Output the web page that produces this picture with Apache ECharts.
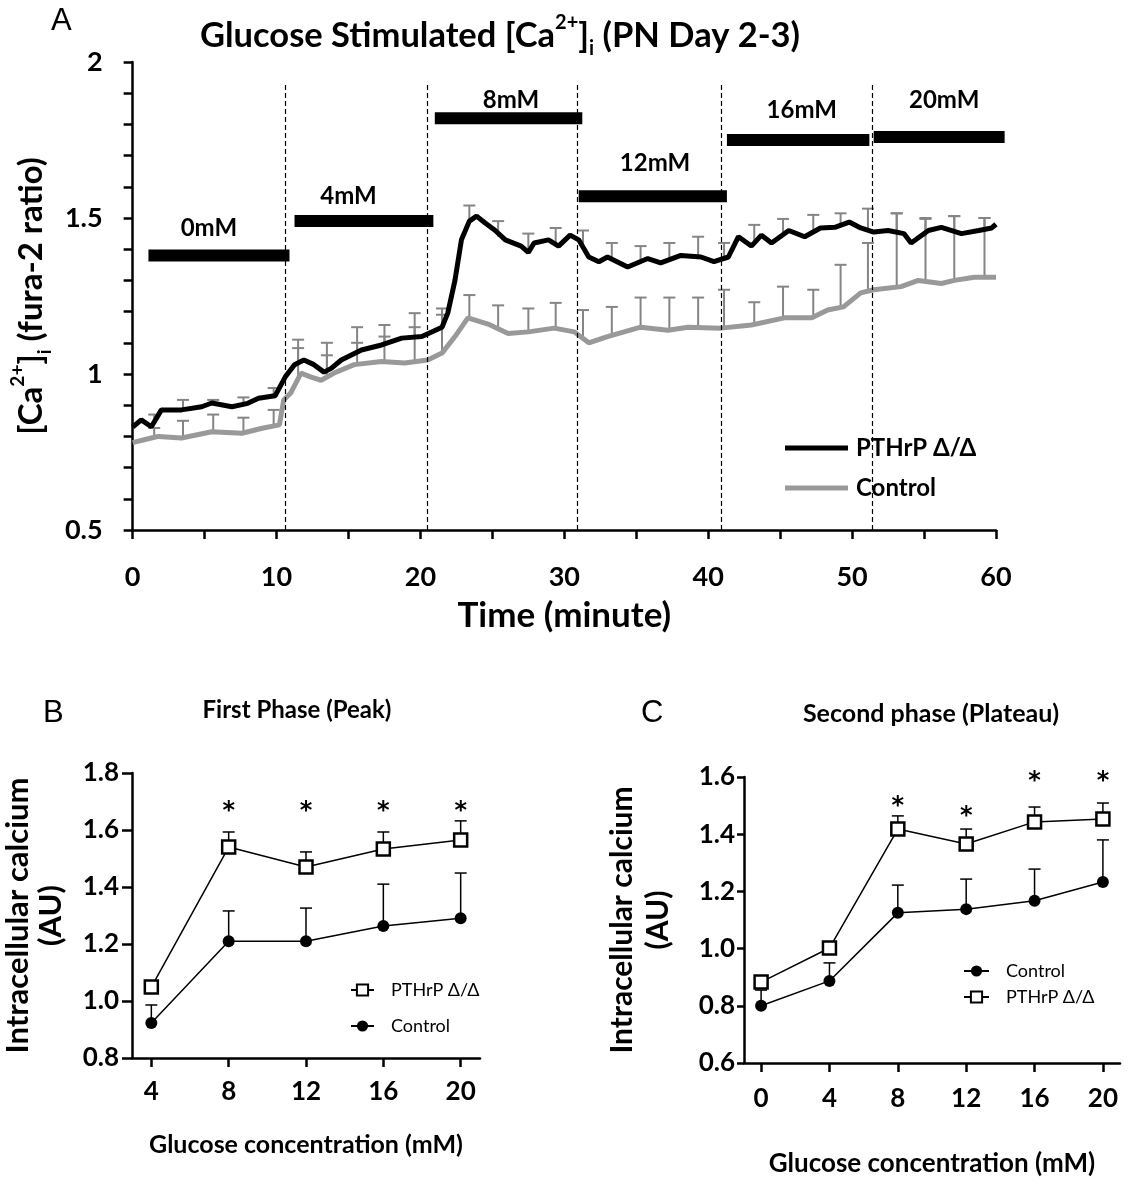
<!DOCTYPE html>
<html lang="en">
<head>
<meta charset="utf-8">
<title>Glucose Stimulated Ca2+ (PN Day 2-3)</title>
<script src="https://cdn.jsdelivr.net/npm/echarts@6/dist/echarts.min.js"></script>
<style>
  html, body { margin: 0; padding: 0; background: #fff; }
  #chart { width: 1144px; height: 1184px; }
</style>
</head>
<body>
<div id="chart"></div>
<script>
// ---- panel A : time course, [minute, fura-2 ratio] ----
var pthrpTrace = [
  [0, 0.83], [0.6, 0.853], [1.3, 0.831], [2.0, 0.885], [3.4, 0.885], [4.8, 0.895], [5.5, 0.907],
  [6.9, 0.895], [8.0, 0.906], [8.75, 0.922], [9.9, 0.93], [10.6, 0.99], [11.25, 1.03], [11.9, 1.045],
  [12.6, 1.03], [13.3, 1.006], [13.8, 1.018], [14.5, 1.045], [15.9, 1.077], [17.3, 1.093], [18.7, 1.115],
  [20.1, 1.12], [21.5, 1.15], [21.9, 1.195], [22.4, 1.30], [22.85, 1.43], [23.4, 1.49], [23.9, 1.506],
  [24.5, 1.484], [25.2, 1.46], [25.9, 1.43], [27.0, 1.41], [27.5, 1.39], [27.9, 1.42], [28.9, 1.43],
  [29.6, 1.41], [30.4, 1.445], [31.0, 1.43], [31.7, 1.375], [32.4, 1.36], [33.0, 1.375], [34.4, 1.343],
  [35.8, 1.37], [36.7, 1.356], [38.1, 1.38], [39.5, 1.375], [40.4, 1.36], [41.4, 1.375], [42.1, 1.44],
  [43.0, 1.41], [43.7, 1.445], [44.4, 1.42], [45.6, 1.46], [46.7, 1.44], [47.8, 1.468], [48.8, 1.47],
  [49.8, 1.487], [50.6, 1.468], [51.5, 1.455], [52.5, 1.46], [53.6, 1.45], [54.1, 1.42], [55.3, 1.46],
  [56.2, 1.47], [57.6, 1.45], [58.8, 1.46], [59.7, 1.468], [60, 1.48]
];
var controlTrace = [
  [0, 0.78], [1.3, 0.795], [1.8, 0.80], [3.4, 0.795], [5.5, 0.815], [7.6, 0.81], [9.0, 0.826],
  [10.2, 0.837], [10.5, 0.917], [11.0, 0.94], [11.7, 1.003], [12.4, 0.99], [13.1, 0.98], [14.0, 1.003],
  [15.4, 1.03], [17.3, 1.04], [18.9, 1.035], [20.5, 1.045], [21.5, 1.067], [22.4, 1.12], [23.3, 1.18],
  [24.7, 1.16], [26.1, 1.13], [27.5, 1.135], [29.3, 1.147], [30.7, 1.135], [31.7, 1.10], [33.0, 1.12],
  [35.3, 1.15], [37.2, 1.14], [38.6, 1.15], [40.9, 1.147], [43.0, 1.157], [45.3, 1.18], [47.2, 1.18],
  [48.3, 1.205], [49.4, 1.215], [50.6, 1.26], [51.5, 1.27], [53.4, 1.28], [54.6, 1.30], [56.2, 1.29],
  [57.1, 1.30], [58.5, 1.31], [60, 1.31]
];
var errTimes = [1.5, 3.5, 5.6, 7.7, 9.8, 11.5, 13.5, 15.6, 17.5, 19.6, 21.5, 23.4, 25.4, 27.5, 29.4,
  31.3, 33.3, 35.3, 37.3, 39.3, 41.1, 43.2, 45.2, 47.3, 49.2, 51.1, 53.1, 55.1, 57.1, 59.2];
var pthrpErrMean = [0.85, 0.885, 0.90, 0.90, 0.93, 1.035, 1.01, 1.07, 1.095, 1.12, 1.15, 1.49, 1.44, 1.40, 1.42,
  1.41, 1.37, 1.36, 1.37, 1.375, 1.37, 1.42, 1.45, 1.45, 1.48, 1.46, 1.45, 1.44, 1.46, 1.46];
var pthrpErrTop = [0.87, 0.917, 0.917, 0.925, 0.955, 1.083, 1.06, 1.10, 1.12, 1.15, 1.19, 1.54, 1.49, 1.45, 1.468,
  1.46, 1.42, 1.41, 1.42, 1.44, 1.42, 1.478, 1.497, 1.51, 1.515, 1.53, 1.515, 1.50, 1.506, 1.50];
var controlErrMean = [0.80, 0.795, 0.815, 0.81, 0.83, 0.99, 0.985, 1.03, 1.04, 1.04, 1.067, 1.18, 1.145, 1.135, 1.147,
  1.11, 1.12, 1.15, 1.14, 1.15, 1.147, 1.157, 1.18, 1.18, 1.215, 1.265, 1.28, 1.30, 1.30, 1.31];
var controlErrTop = [0.827, 0.85, 0.87, 0.86, 0.885, 1.11, 1.10, 1.15, 1.157, 1.195, 1.21, 1.253, 1.22, 1.21, 1.228,
  1.205, 1.215, 1.245, 1.245, 1.245, 1.27, 1.23, 1.28, 1.27, 1.35, 1.42, 1.515, 1.497, 1.506, 1.50];
var stepTimes = [10.6, 20.5, 30.9, 40.9, 51.4];
var stimLabels = ['0mM', '4mM', '8mM', '12mM', '16mM', '20mM'];
var stimStart = [1.1, 11.25, 21.0, 31.0, 41.3, 51.5];
var stimEnd = [10.9, 20.9, 31.25, 41.3, 51.2, 60.6];
var stimLevel = [1.38, 1.49, 1.82, 1.57, 1.75, 1.76];
var stimLabelX = [5.3, 15.0, 26.3, 36.3, 46.5, 56.4];
var stimLabelY = [1.468, 1.571, 1.878, 1.676, 1.846, 1.878];

// ---- panel B : first phase (peak) ----
var glucoseB = [4, 8, 12, 16, 20];
var peakPthrp = [1.049, 1.54, 1.47, 1.533, 1.565];
var peakPthrpTop = [1.06, 1.593, 1.523, 1.593, 1.632];
var peakControl = [0.923, 1.21, 1.21, 1.263, 1.29];
var peakControlTop = [0.986, 1.316, 1.326, 1.41, 1.449];
var peakStarX = [8, 12, 16, 20];
var peakStarY = [1.665, 1.665, 1.665, 1.665];

// ---- panel C : second phase (plateau) ----
var glucoseC = [0, 4, 8, 12, 16, 20];
var plateauControl = [0.80, 0.887, 1.125, 1.138, 1.167, 1.233];
var plateauControlTop = [0.855, 0.95, 1.222, 1.243, 1.278, 1.38];
var plateauPthrp = [0.883, 1.002, 1.418, 1.366, 1.443, 1.453];
var plateauPthrpTop = [0.89, 1.01, 1.464, 1.418, 1.495, 1.509];
var plateauStarX = [8, 12, 16, 20];
var plateauStarY = [1.495, 1.46, 1.585, 1.585];

var FONT = "Lato, 'Open Sans', sans-serif";
var chart = echarts.init(document.getElementById('chart'));

function pairs(xs, ys) {
  return xs.map(function (x, i) { return [x, ys[i]]; });
}
function triples(xs, lo, hi) {
  return xs.map(function (x, i) { return [x, lo[i], hi[i]]; });
}

// error bar: stem from mean to top plus a cap
function errBar(color, capW, lw) {
  return function (params, api) {
    var b = api.coord([api.value(0), api.value(1)]);
    var t = api.coord([api.value(0), api.value(2)]);
    var st = { stroke: color, lineWidth: lw };
    return {
      type: 'group', children: [
        { type: 'line', shape: { x1: b[0], y1: b[1], x2: t[0], y2: t[1] }, style: st },
        { type: 'line', shape: { x1: t[0] - capW / 2, y1: t[1], x2: t[0] + capW / 2, y2: t[1] }, style: st }
      ]
    };
  };
}
function starRender(params, api) {
  var p = api.coord([api.value(0), api.value(1)]);
  return { type: 'text', x: p[0], y: p[1], style: { text: '*', font: 'bold 24px "DejaVu Sans"', fill: '#000', align: 'center', verticalAlign: 'middle' } };
}

var axLine = { lineStyle: { color: '#000', width: 2.5 } };
var axTick = function (len) { return { length: len, lineStyle: { color: '#000', width: 2.5 } }; };
var boldLabel = function (size, margin) {
  return { fontSize: size, fontWeight: 'bold', color: '#000', fontFamily: FONT, margin: margin };
};
var nameStyle = function (size, lh) {
  return { fontSize: size, fontWeight: 'bold', color: '#000', fontFamily: FONT, lineHeight: lh };
};
function supRich(big, small, lh) {
  return {
    m: { fontSize: big, fontWeight: 'bold', fontFamily: FONT, color: '#000', lineHeight: lh },
    sup: { fontSize: small, fontWeight: 'bold', fontFamily: FONT, color: '#000', verticalAlign: 'top', lineHeight: lh },
    sub: { fontSize: small, fontWeight: 'bold', fontFamily: FONT, color: '#000', verticalAlign: 'bottom', lineHeight: lh }
  };
}

var option = {
  animation: false,
  backgroundColor: '#fff',
  title: [
    { text: 'A', left: 51, top: 6, padding: 0, textStyle: { fontFamily: 'Liberation Sans', fontWeight: 'normal', fontSize: 31, color: '#000' } },
    { text: '{m|Glucose Stimulated [Ca}{sup|2+}{m|]}{sub|i}{m| (PN Day 2-3)}', left: 200, top: 13, padding: 0, textStyle: { rich: supRich(34.5, 20, 46) } },
    { text: 'B', left: 43, top: 698, padding: 0, textStyle: { fontFamily: 'Liberation Sans', fontWeight: 'normal', fontSize: 31, color: '#000' } },
    { text: 'First Phase (Peak)', left: 297, top: 698, padding: 0, textAlign: 'center', textStyle: { fontFamily: FONT, fontWeight: 'bold', fontSize: 24, color: '#000' } },
    { text: 'C', left: 641, top: 698, padding: 0, textStyle: { fontFamily: 'Liberation Sans', fontWeight: 'normal', fontSize: 31, color: '#000' } },
    { text: 'Second phase (Plateau)', left: 931, top: 701, padding: 0, textAlign: 'center', textStyle: { fontFamily: FONT, fontWeight: 'bold', fontSize: 25, color: '#000' } }
  ],
  legend: [
    {
      left: 780, top: 431, orient: 'vertical', icon: 'rect', itemWidth: 63, itemHeight: 5, itemGap: 16,
      data: ['PTHrP Δ/Δ', 'Control'], selectedMode: false,
      textStyle: { fontSize: 24, fontWeight: 'bold', color: '#000', fontFamily: FONT, padding: [0, 0, 0, 3] }
    },
    {
      left: 345, top: 976, orient: 'vertical', itemWidth: 23, itemHeight: 14, itemGap: 18,
      data: ['PTHrP Δ/Δ ', 'Control '], selectedMode: false,
      textStyle: { fontSize: 18, color: '#000', fontFamily: FONT, padding: [0, 0, 0, 12] }
    },
    {
      left: 958, top: 957, orient: 'vertical', itemWidth: 25, itemHeight: 14, itemGap: 8,
      data: ['Control  ', 'PTHrP Δ/Δ  '], selectedMode: false,
      textStyle: { fontSize: 18, color: '#000', fontFamily: FONT, padding: [0, 0, 0, 12] }
    }
  ],
  grid: [
    { left: 131, top: 62, width: 865, height: 468 },
    { left: 115, top: 773, width: 365, height: 285 },
    { left: 744, top: 777, width: 376, height: 286 }
  ],
  xAxis: [
    {
      gridIndex: 0, type: 'value', min: 0, max: 60, interval: 10,
      axisLine: axLine, axisTick: axTick(9),
      minorTick: { show: true, splitNumber: 2, length: 9, lineStyle: { color: '#000', width: 2.5 } },
      splitLine: { show: false }, minorSplitLine: { show: false },
      axisLabel: boldLabel(27, 34),
      name: 'Time (minute)', nameLocation: 'middle', nameGap: 68, nameTextStyle: nameStyle(35)
    },
    {
      gridIndex: 1, type: 'value', min: 3, max: 21,
      axisLine: { onZero: false, lineStyle: { color: '#000', width: 2.5 } },
      axisTick: { length: 9, lineStyle: { color: '#000', width: 2.5 }, customValues: glucoseB },
      splitLine: { show: false },
      axisLabel: Object.assign(boldLabel(26, 21), { customValues: glucoseB }),
      name: 'Glucose concentration (mM)', nameLocation: 'middle', nameGap: 74, nameTextStyle: nameStyle(25)
    },
    {
      gridIndex: 2, type: 'value', min: -1, max: 21,
      axisLine: { onZero: false, lineStyle: { color: '#000', width: 2.5 } },
      axisTick: { length: 9, lineStyle: { color: '#000', width: 2.5 }, customValues: glucoseC },
      splitLine: { show: false },
      axisLabel: Object.assign(boldLabel(26, 23), { customValues: glucoseC }),
      name: 'Glucose concentration (mM)', nameLocation: 'middle', nameGap: 88, nameTextStyle: nameStyle(26)
    }
  ],
  yAxis: [
    {
      gridIndex: 0, type: 'value', min: 0.5, max: 2, interval: 0.5,
      axisLine: axLine, axisTick: axTick(9),
      minorTick: { show: true, splitNumber: 5, length: 9, lineStyle: { color: '#000', width: 2.5 } },
      splitLine: { show: false }, minorSplitLine: { show: false },
      axisLabel: boldLabel(27, 30),
      name: '{m|[Ca}{sup|2+}{m|]}{sub|i}{m| (fura-2 ratio)}', nameLocation: 'middle', nameGap: 63,
      nameTextStyle: { rich: supRich(33, 19, 46) }
    },
    {
      gridIndex: 1, type: 'value', min: 0.8, max: 1.8, interval: 0.2,
      axisLine: { onZero: false, lineStyle: { color: '#000', width: 2.5 } }, axisTick: axTick(10),
      splitLine: { show: false },
      axisLabel: Object.assign(boldLabel(26, 13), { formatter: function (v) { return v.toFixed(1); } }),
      name: 'Intracellular calcium\n(AU)', nameLocation: 'middle', nameGap: 65, nameTextStyle: nameStyle(31, 33)
    },
    {
      gridIndex: 2, type: 'value', min: 0.6, max: 1.6, interval: 0.2,
      axisLine: { onZero: false, lineStyle: { color: '#000', width: 2.5 } }, axisTick: axTick(7),
      splitLine: { show: false },
      axisLabel: Object.assign(boldLabel(26, 9), { formatter: function (v) { return v.toFixed(1); } }),
      name: 'Intracellular calcium\n(AU)', nameLocation: 'middle', nameGap: 68, nameTextStyle: nameStyle(30, 36)
    }
  ],
  series: [
    // panel A
    {
      name: 'ctrlErrA', type: 'custom', xAxisIndex: 0, yAxisIndex: 0, z: 2,
      renderItem: errBar('#858585', 12, 2), data: triples(errTimes, controlErrMean, controlErrTop),
      encode: { x: 0, y: [1, 2] }
    },
    {
      name: 'pthrpErrA', type: 'custom', xAxisIndex: 0, yAxisIndex: 0, z: 2,
      renderItem: errBar('#858585', 12, 2), data: triples(errTimes, pthrpErrMean, pthrpErrTop),
      encode: { x: 0, y: [1, 2] }
    },
    {
      name: 'Control', type: 'line', xAxisIndex: 0, yAxisIndex: 0, z: 3,
      data: controlTrace, symbol: 'none', color: '#999999',
      lineStyle: { color: '#999999', width: 5 },
      markLine: {
        silent: true, symbol: 'none', label: { show: false },
        lineStyle: { color: '#000', width: 1.2, type: [5, 3] },
        data: stepTimes.map(function (t) { return [{ coord: [t, 0.5] }, { coord: [t, 1.93] }]; })
      }
    },
    {
      name: 'PTHrP Δ/Δ', type: 'line', xAxisIndex: 0, yAxisIndex: 0, z: 4,
      data: pthrpTrace, symbol: 'none', color: '#000',
      lineStyle: { color: '#000', width: 5 }
    },
    {
      name: 'stimulus', type: 'custom', xAxisIndex: 0, yAxisIndex: 0, z: 5, clip: false,
      data: pairs(stimStart, stimLevel),
      renderItem: function (params, api) {
        var i = params.dataIndex;
        var a = api.coord([stimStart[i], stimLevel[i]]);
        var b = api.coord([stimEnd[i], stimLevel[i]]);
        var l = api.coord([stimLabelX[i], stimLabelY[i]]);
        return {
          type: 'group', children: [
            { type: 'rect', shape: { x: a[0], y: a[1] - 6, width: b[0] - a[0], height: 12 }, style: { fill: '#000' } },
            { type: 'text', x: l[0], y: l[1], style: { text: stimLabels[i], font: 'bold 24px ' + FONT, fill: '#000', align: 'center', verticalAlign: 'middle' } }
          ]
        };
      }
    },
    // panel B
    {
      name: 'ctrlErrB', type: 'custom', xAxisIndex: 1, yAxisIndex: 1, z: 2,
      renderItem: errBar('#000', 12, 1.5), data: triples(glucoseB, peakControl, peakControlTop),
      encode: { x: 0, y: [1, 2] }
    },
    {
      name: 'pthrpErrB', type: 'custom', xAxisIndex: 1, yAxisIndex: 1, z: 2,
      renderItem: errBar('#000', 12, 1.5), data: triples(glucoseB, peakPthrp, peakPthrpTop),
      encode: { x: 0, y: [1, 2] }
    },
    {
      name: 'Control ', type: 'line', xAxisIndex: 1, yAxisIndex: 1, z: 3,
      data: pairs(glucoseB, peakControl), symbol: 'circle', symbolSize: 12,
      itemStyle: { color: '#000' }, lineStyle: { color: '#000', width: 1.5 }
    },
    {
      name: 'PTHrP Δ/Δ ', type: 'line', xAxisIndex: 1, yAxisIndex: 1, z: 4,
      data: pairs(glucoseB, peakPthrp), symbol: 'rect', symbolSize: 13,
      itemStyle: { color: '#fff', borderColor: '#000', borderWidth: 2.5 }, lineStyle: { color: '#000', width: 1.5 }
    },
    {
      name: 'starsB', type: 'custom', xAxisIndex: 1, yAxisIndex: 1, z: 5,
      renderItem: starRender, data: pairs(peakStarX, peakStarY)
    },
    // panel C
    {
      name: 'ctrlErrC', type: 'custom', xAxisIndex: 2, yAxisIndex: 2, z: 2,
      renderItem: errBar('#000', 12, 1.5), data: triples(glucoseC, plateauControl, plateauControlTop),
      encode: { x: 0, y: [1, 2] }
    },
    {
      name: 'pthrpErrC', type: 'custom', xAxisIndex: 2, yAxisIndex: 2, z: 2,
      renderItem: errBar('#000', 12, 1.5), data: triples(glucoseC, plateauPthrp, plateauPthrpTop),
      encode: { x: 0, y: [1, 2] }
    },
    {
      name: 'Control  ', type: 'line', xAxisIndex: 2, yAxisIndex: 2, z: 3,
      data: pairs(glucoseC, plateauControl), symbol: 'circle', symbolSize: 12,
      itemStyle: { color: '#000' }, lineStyle: { color: '#000', width: 1.5 }
    },
    {
      name: 'PTHrP Δ/Δ  ', type: 'line', xAxisIndex: 2, yAxisIndex: 2, z: 4,
      data: pairs(glucoseC, plateauPthrp), symbol: 'rect', symbolSize: 13,
      itemStyle: { color: '#fff', borderColor: '#000', borderWidth: 2.5 }, lineStyle: { color: '#000', width: 1.5 }
    },
    {
      name: 'starsC', type: 'custom', xAxisIndex: 2, yAxisIndex: 2, z: 5,
      renderItem: starRender, data: pairs(plateauStarX, plateauStarY)
    }
  ]
};
chart.setOption(option);
</script>
</body>
</html>
